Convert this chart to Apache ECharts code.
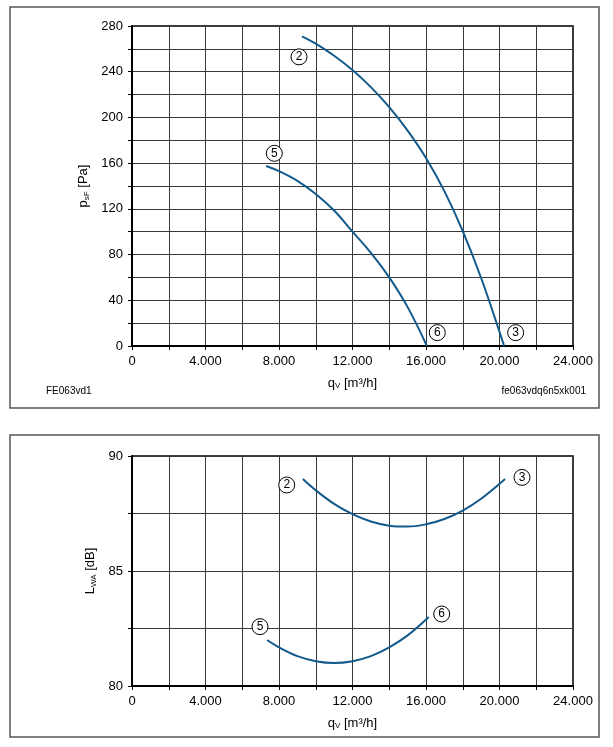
<!DOCTYPE html>
<html>
<head>
<meta charset="utf-8">
<script src="https://cdn.jsdelivr.net/npm/echarts@6/dist/echarts.min.js"></script>
<style>
  html, body { margin: 0; padding: 0; background: #fff; }
  #chart { width: 613px; height: 747px; }
</style>
</head>
<body>
<div id="chart"></div>
<script>
  // pressure curves (top chart), q in m3/h, p in Pa
  var qCurve2 = [9250, 10000, 11000, 12000, 13000, 14000, 15000, 16000, 17000, 18000, 19000, 20000, 20250];
  var pCurve2 = [271, 264.6, 254, 241.5, 226.5, 209, 188.5, 164.5, 135.5, 100.5, 59.5, 12.5, 0];
  var qCurve5 = [7300, 8000, 9000, 10000, 11000, 12000, 13000, 14000, 15000, 16050];
  var pCurve5 = [157.5, 153, 144.5, 133, 118.5, 100, 81.5, 60, 34, 0];

  // sound power curves (bottom chart), L in dB
  var qSound23 = [9300, 10000, 11000, 12000, 13000, 14000, 15000, 16000, 17000, 18000, 19000, 20300];
  var lSound23 = [89.0, 88.51, 87.92, 87.47, 87.15, 86.97, 86.93, 87.03, 87.26, 87.63, 88.14, 89.0];
  var qSound56 = [7350, 8000, 9000, 10000, 11000, 12000, 13000, 14000, 15000, 16150];
  var lSound56 = [82.0, 81.68, 81.3, 81.08, 81.0, 81.08, 81.3, 81.68, 82.2, 83.0];

  // circled point markers [q, value, label]
  var markersTop = [[9090, 253, '2'], [7745, 168.6, '5'], [16615, 11.7, '6'], [20880, 11.7, '3']];
  var markersBottom = [[8420, 88.74, '2'], [21224, 89.07, '3'], [6966, 82.58, '5'], [16854, 83.13, '6']];

  var qTickLabels = [0, 4000, 8000, 12000, 16000, 20000, 24000];
  var pTickLabels = [0, 40, 80, 120, 160, 200, 240, 280];
  var lTickLabels = [80, 85, 90];

  var font = 'Liberation Sans';
  var curveColor = '#135a8c';

  function pairs(xs, ys) {
    return xs.map(function (x, i) { return [x, ys[i]]; });
  }

  function fmtQ(v) {
    if (qTickLabels.indexOf(v) < 0) return '';
    if (v === 0) return '0';
    return (v / 1000) + '.000';
  }

  function xAxisFor(gridIndex) {
    return {
      type: 'value', gridIndex: gridIndex, min: 0, max: 24000, interval: 2000,
      name: 'q{s|V} [m³/h]', nameLocation: 'middle', nameGap: 30,
      nameTextStyle: {
        color: '#000', fontFamily: font, fontSize: 13,
        rich: { s: { fontSize: 8, fontFamily: font, color: '#000', padding: [6, 0, 0, 0] } }
      },
      axisLine: { onZero: false, lineStyle: { color: '#000', width: 2 } },
      axisTick: { show: true, length: 4, lineStyle: { color: '#000', width: 1 } },
      axisLabel: { formatter: fmtQ, color: '#000', fontFamily: font, fontSize: 13, margin: 9, showMaxLabel: true },
      splitLine: { show: true, lineStyle: { color: '#3a3a3a', width: 1 } }
    };
  }

  function markerSeries(xi, yi, data) {
    return {
      type: 'scatter', xAxisIndex: xi, yAxisIndex: yi, data: data,
      symbol: 'circle', symbolSize: 16, z: 5,
      itemStyle: { color: '#fff', borderColor: '#000', borderWidth: 1, opacity: 1 },
      label: {
        show: true, position: 'inside', color: '#000', fontFamily: font, fontSize: 12,
        formatter: function (p) { return p.data[2]; }
      }
    };
  }

  function curveSeries(xi, yi, data) {
    return {
      type: 'line', xAxisIndex: xi, yAxisIndex: yi, data: data,
      smooth: 0.4, showSymbol: false, z: 4,
      lineStyle: { color: curveColor, width: 2 }
    };
  }

  var chart = echarts.init(document.getElementById('chart'));
  chart.setOption({
    backgroundColor: '#fff',
    animation: false,
    graphic: [
      { type: 'rect', shape: { x: 10, y: 7, width: 589, height: 401 },
        style: { fill: null, stroke: '#555', lineWidth: 1.5 } },
      { type: 'rect', shape: { x: 10, y: 435, width: 589, height: 302 },
        style: { fill: null, stroke: '#555', lineWidth: 1.5 } },
      { type: 'text', left: 46, top: 386,
        style: { text: 'FE063vd1', fill: '#000', font: '10px "Liberation Sans"' } },
      { type: 'text', right: 27, top: 386,
        style: { text: 'fe063vdq6n5xk001', fill: '#000', font: '10px "Liberation Sans"' } }
    ],
    grid: [
      { left: 132, top: 26, width: 441, height: 320, show: true, borderColor: '#000', borderWidth: 1.5 },
      { left: 132, top: 456, width: 441, height: 230, show: true, borderColor: '#000', borderWidth: 1.5 }
    ],
    xAxis: [xAxisFor(0), xAxisFor(1)],
    yAxis: [
      {
        type: 'value', gridIndex: 0, min: 0, max: 280, interval: 20,
        name: 'p{s|sF} [Pa]', nameLocation: 'middle', nameGap: 40,
        nameTextStyle: {
          color: '#000', fontFamily: font, fontSize: 13,
          rich: { s: { fontSize: 8, fontFamily: font, color: '#000', padding: [6, 0, 0, 0] } }
        },
        axisLine: { show: true, lineStyle: { color: '#000', width: 2 } },
        axisTick: { show: true, length: 4, lineStyle: { color: '#000' } },
        axisLabel: {
          color: '#000', fontFamily: font, fontSize: 13, margin: 9,
          formatter: function (v) { return pTickLabels.indexOf(v) < 0 ? '' : String(v); }
        },
        splitLine: { show: true, lineStyle: { color: '#3a3a3a', width: 1 } }
      },
      {
        type: 'value', gridIndex: 1, min: 80, max: 90, interval: 2.5,
        name: 'L{s|WA} [dB]', nameLocation: 'middle', nameGap: 34,
        nameTextStyle: {
          color: '#000', fontFamily: font, fontSize: 13,
          rich: { s: { fontSize: 8, fontFamily: font, color: '#000', padding: [6, 0, 0, 0] } }
        },
        axisLine: { show: true, lineStyle: { color: '#000', width: 2 } },
        axisTick: { show: true, length: 4, lineStyle: { color: '#000' } },
        axisLabel: {
          color: '#000', fontFamily: font, fontSize: 13, margin: 9,
          formatter: function (v) { return lTickLabels.indexOf(v) < 0 ? '' : String(v); }
        },
        splitLine: { show: true, lineStyle: { color: '#3a3a3a', width: 1 } }
      }
    ],
    series: [
      curveSeries(0, 0, pairs(qCurve2, pCurve2)),
      curveSeries(0, 0, pairs(qCurve5, pCurve5)),
      curveSeries(1, 1, pairs(qSound23, lSound23)),
      curveSeries(1, 1, pairs(qSound56, lSound56)),
      markerSeries(0, 0, markersTop),
      markerSeries(1, 1, markersBottom)
    ]
  });
</script>
</body>
</html>
